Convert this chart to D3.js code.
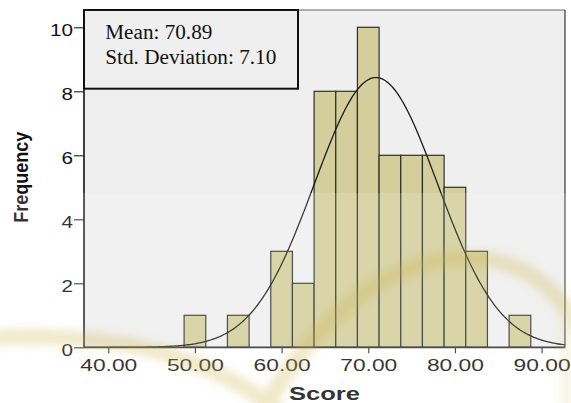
<!DOCTYPE html>
<html><head><meta charset="utf-8">
<script src="https://cdn.jsdelivr.net/npm/d3@7"></script>
<style>html,body{margin:0;padding:0;background:#fff;}svg{display:block;}</style>
</head><body>
<svg id="c" width="571" height="403"></svg>
<script>
// ---- data ----
const binCenters = [50, 55, 60, 62.5, 65, 67.5, 70, 72.5, 75, 77.5, 80, 82.5, 87.5];
const binCounts  = [1, 1, 3, 2, 8, 8, 10, 6, 6, 6, 5, 3, 1];
const binWidth = 2.5;
const xTickValues = [40, 50, 60, 70, 80, 90];
const yTickValues = [0, 2, 4, 6, 8, 10];
const statMean = 70.89;
const statSD = 7.10;
const legendLines = ["Mean: 70.89", "Std. Deviation: 7.10"];
const xTitle = "Score", yTitle = "Frequency";

const N = d3.sum(binCounts);
const svg = d3.select("#c");
const L = 84, R = 565, T = 10, B = 347.3;
const x = d3.scaleLinear().domain([37.2, 92.7]).range([L, R]);
const y = d3.scaleLinear().domain([0, 10.54]).range([B, T]);

const defs = svg.append("defs");
defs.append("filter").attr("id","blur").attr("x","-20%").attr("y","-20%").attr("width","140%").attr("height","140%")
  .append("feGaussianBlur").attr("stdDeviation", 5);

// plot background
svg.append("rect").attr("x",L).attr("y",T).attr("width",R-L).attr("height",B-T).attr("fill","#efefef");

// bars
svg.append("g").selectAll("rect").data(binCenters).join("rect")
  .attr("x", d => x(d - binWidth/2))
  .attr("width", d => x(d + binWidth/2) - x(d - binWidth/2))
  .attr("y", (d,i) => y(binCounts[i]))
  .attr("height", (d,i) => y(0) - y(binCounts[i]))
  .attr("fill", "#d3ce9b").attr("stroke", "#2e2e2e").attr("stroke-width", 1.2);

// normal curve
const pts = d3.range(0, 301).map(i => {
  const v = 37.2 + (92.7 - 37.2) * i / 300;
  const z = (v - statMean) / statSD;
  return [v, N * binWidth * Math.exp(-0.5 * z * z) / (statSD * Math.sqrt(2 * Math.PI))];
});
svg.append("path").datum(pts)
  .attr("d", d3.line().x(d => x(d[0])).y(d => y(d[1])))
  .attr("fill","none").attr("stroke","#1a1a1a").attr("stroke-width",1.3);

// frame top/right
svg.append("line").attr("x1",L).attr("x2",R).attr("y1",T).attr("y2",T).attr("stroke","#666").attr("stroke-width",1);
svg.append("line").attr("x1",R).attr("x2",R).attr("y1",T).attr("y2",B).attr("stroke","#333").attr("stroke-width",1.2);

// axes
const gx = svg.append("g").attr("transform",`translate(0,${B})`)
  .call(d3.axisBottom(x).tickValues(xTickValues).tickSize(6).tickSizeOuter(0).tickPadding(6).tickFormat(d3.format(".2f")));
const gy = svg.append("g").attr("transform",`translate(${L},0)`)
  .call(d3.axisLeft(y).tickValues(yTickValues).tickSize(10).tickSizeOuter(0).tickPadding(1).tickFormat(d3.format("d")));
[gx, gy].forEach(g => {
  g.select(".domain").attr("stroke","#2b2b2b").attr("stroke-width",1.8);
  g.selectAll(".tick line").attr("stroke","#333").attr("stroke-width",1.2);
  g.selectAll(".tick text").attr("font-family","'Liberation Sans', Arial, sans-serif").attr("font-size",16).attr("fill","#111");
});
gx.select(".domain").attr("d", `M${L},0H${R}`);
gy.select(".domain").attr("d", `M0,${B}V${T}`);
gx.selectAll(".tick text").attr("dy", null).attr("y", 23.4)
  .attr("textLength", 57).attr("lengthAdjust","spacingAndGlyphs");
gy.selectAll(".tick text").attr("dy", null).attr("y", 8.5)
  .attr("textLength", d => String(d).length * 11.5).attr("lengthAdjust","spacingAndGlyphs");

// axis titles
svg.append("text").attr("x", (L+R)/2).attr("y", 399.5).attr("text-anchor","middle")
  .attr("font-family","'Liberation Sans', Arial, sans-serif").attr("font-weight","bold").attr("font-size",19)
  .attr("fill","#111").attr("textLength",71).attr("lengthAdjust","spacingAndGlyphs").text(xTitle);
svg.append("text").attr("transform",`translate(28.3,177.2) rotate(-90)`).attr("text-anchor","middle")
  .attr("font-family","'Liberation Sans', Arial, sans-serif").attr("font-weight","bold").attr("font-size",19.5)
  .attr("fill","#111").attr("textLength",91).attr("lengthAdjust","spacingAndGlyphs").text(yTitle);

// legend box
svg.append("rect").attr("x",L).attr("y",T).attr("width",298-L).attr("height",88.7-T)
  .attr("fill","#efefef").attr("stroke","#111").attr("stroke-width",2);
const lgW = [107, 171];
svg.append("g").selectAll("text").data(legendLines).join("text")
  .attr("x", 105.3).attr("y", (d,i) => 39.3 + i*24.7)
  .attr("font-family","'Liberation Serif', 'Times New Roman', serif").attr("font-size",20.5).attr("fill","#111")
  .attr("textLength", (d,i) => lgW[i]).attr("lengthAdjust","spacingAndGlyphs")
  .text(d => d);

// watermark (soft overlay)
svg.append("rect").attr("x",0).attr("y",193).attr("width",571).attr("height",210).attr("fill","#fff").attr("opacity",0.15);
const wm = svg.append("g").attr("filter","url(#blur)").attr("fill","none").attr("stroke","#cdb24a").attr("opacity",0.3);
wm.append("path").attr("d","M-10,338 C90,333 190,342 280,412").attr("stroke-width",15);
wm.append("path").attr("d","M262,412 C320,310 390,262 460,258 C520,256 555,285 580,330").attr("stroke-width",16);
wm.append("path").attr("d","M567,300 L567,412").attr("stroke-width",10).attr("opacity",0.6);
</script>
</body></html>
